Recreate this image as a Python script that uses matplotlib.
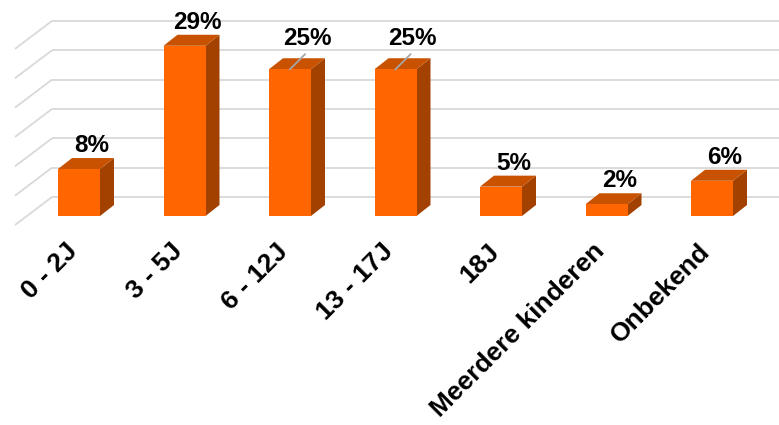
import matplotlib
matplotlib.use("Agg")
import matplotlib.pyplot as plt
from matplotlib.patches import Polygon

# ---- data ----
categories = ["0 - 2J", "3 - 5J", "6 - 12J", "13 - 17J", "18J", "Meerdere kinderen", "Onbekend"]
values = [8, 29, 25, 25, 5, 2, 6]
value_labels = ["8%", "29%", "25%", "25%", "5%", "2%", "6%"]
gridline_values = [0, 5, 10, 15, 20, 25, 30]
leader_label_idx = [2, 3]

# ---- styling / geometry ----
FRONT = "#FF6600"
TOP = "#C85200"
SIDE = "#A34100"
GRID = "#D9D9D9"
plt.rcParams["font.family"] = ["Liberation Sans", "DejaVu Sans"]

W, H, DPI = 779, 425, 100
PX_CAT = 105.5   # pixels per category
PX_PCT = 5.87    # pixels per percent
X0_PX, Y0_PX = 79, 216  # pixel position of category 0, value 0 (bar front plane)

def dx(px):
    return px / PX_CAT

def dy(px):
    return px / PX_PCT

fig = plt.figure(figsize=(W / DPI, H / DPI), dpi=DPI)
ax = fig.add_axes([0, 0, 1, 1])
ax.set_xlim(-X0_PX / PX_CAT, (W - X0_PX) / PX_CAT)
ax.set_ylim(-(H - Y0_PX) / PX_PCT, Y0_PX / PX_PCT)
ax.axis("off")

# depth geometry (pixels): front floor -> back wall vector (37, -28)
bar_half = dx(21)
bar_ddx, bar_ddy = dx(14), dy(11)
wall_ddx, wall_ddy = dx(25), dy(19)       # bar front plane -> back wall
floor_ddx, floor_ddy = dx(-12), dy(-9)    # bar front plane -> front floor
wall_left = dx(27 - X0_PX)                # left edge of wall in bar-front plane

# gridlines: back wall + left side wall
for g in gridline_values:
    ax.plot([wall_left + wall_ddx, ax.get_xlim()[1]], [g + wall_ddy, g + wall_ddy],
            color=GRID, lw=1.3, zorder=1, solid_capstyle="butt")
    ax.plot([wall_left + wall_ddx, wall_left + floor_ddx], [g + wall_ddy, g + floor_ddy],
            color=GRID, lw=1.3, zorder=1, solid_capstyle="butt")

# bars
for i, v in enumerate(values):
    xl, xr = i - bar_half, i + bar_half
    front = Polygon([(xl, 0), (xr, 0), (xr, v), (xl, v)], closed=True,
                    facecolor=FRONT, edgecolor="none", zorder=3)
    top = Polygon([(xl, v), (xr, v), (xr + bar_ddx, v + bar_ddy), (xl + bar_ddx, v + bar_ddy)],
                  closed=True, facecolor=TOP, edgecolor="none", zorder=3)
    side = Polygon([(xr, 0), (xr, v), (xr + bar_ddx, v + bar_ddy), (xr + bar_ddx, bar_ddy)],
                   closed=True, facecolor=SIDE, edgecolor="none", zorder=3)
    for p in (side, top, front):
        ax.add_patch(p)

    if i in leader_label_idx:
        ax.plot([i, i + dx(15)], [v, v + dy(15)], color="#A6A6A6", lw=1.3, zorder=4)
        ax.text(i + dx(17), v + dy(24), value_labels[i], ha="center", va="baseline",
                fontsize=17.5, fontweight="bold", color="black", zorder=5)
    else:
        ax.text(i + dx(13), v + dy(17), value_labels[i], ha="center", va="baseline",
                fontsize=17.5, fontweight="bold", color="black", zorder=5)

    ax.text(i - dx(14), -dy(23), categories[i], rotation=45, ha="right", va="top",
            rotation_mode="anchor", fontsize=19, fontweight="bold", color="black")

fig.savefig("out.png", dpi=DPI)
